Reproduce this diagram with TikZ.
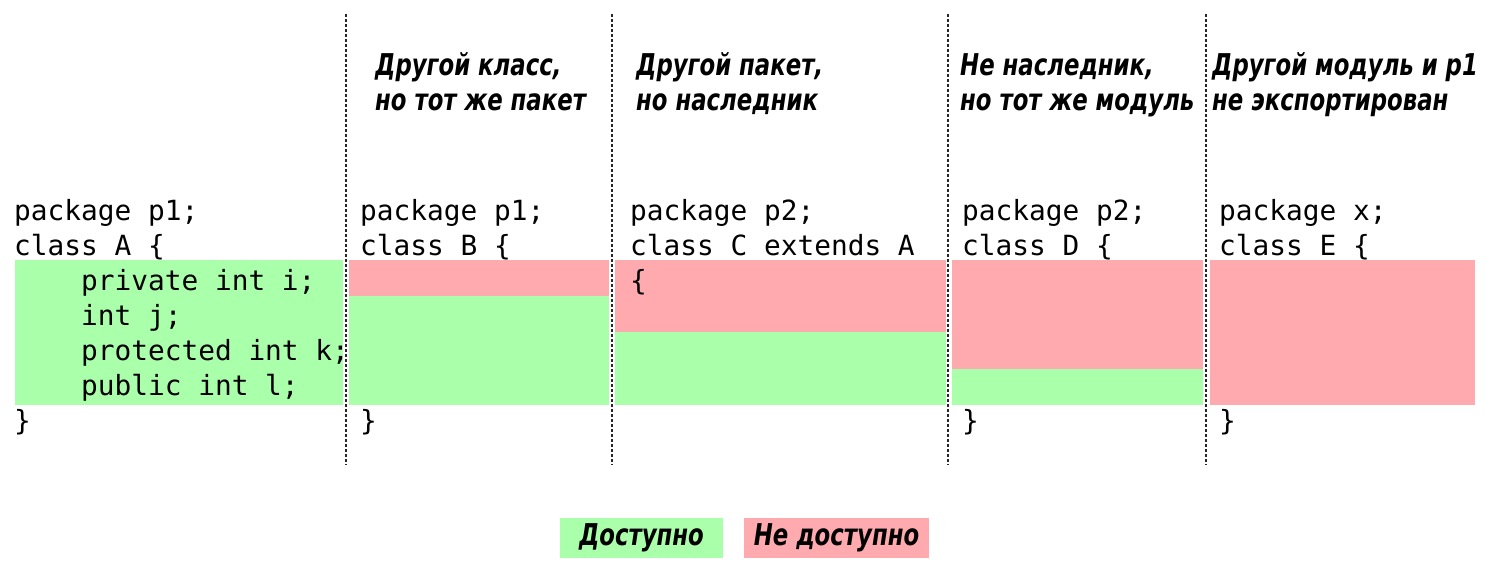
\documentclass[tikz,border=0pt]{standalone}
\usepackage{fontspec}
\newfontfamily\codefont{DejaVu Sans Mono}
\newfontfamily\handfont{DejaVu Sans}[FakeStretch=0.76]
\definecolor{okc}{RGB}{170,255,170}
\definecolor{noc}{RGB}{255,170,175}
\newcommand\ind{\hphantom{xxxx}}
\tikzset{
  code/.style={font=\codefont\fontsize{27.8}{35}\selectfont, anchor=base west, inner sep=0pt},
  head/.style={font=\handfont\bfseries\itshape\fontsize{30}{35}\selectfont, anchor=base west, inner sep=0pt},
  sep/.style={draw=black!85, line width=1.1pt, dash pattern=on 3pt off 2pt},
  legend/.style={font=\handfont\bfseries\itshape\fontsize{30}{35}\selectfont, minimum height=40pt, inner sep=0pt}
}
\begin{document}
\begin{tikzpicture}[x=1pt,y=-1pt]
\useasboundingbox (0,0) rectangle (1485,567);
% bands
\fill[okc] (15,260) rectangle (343,405);
\fill[noc] (349,260) rectangle (609,296);
\fill[okc] (349,296) rectangle (609,405);
\fill[noc] (615,260) rectangle (946,332);
\fill[okc] (615,332) rectangle (946,405);
\fill[noc] (952,260) rectangle (1203,369);
\fill[okc] (952,369) rectangle (1203,405);
\fill[noc] (1210,260) rectangle (1475,405);
% separators
\coordinate (s1t) at (346,14); \coordinate (s1b) at (346,465);
\coordinate (s2t) at (612,14); \coordinate (s2b) at (612,465);
\coordinate (s3t) at (948,14); \coordinate (s3b) at (948,465);
\coordinate (s4t) at (1206,14); \coordinate (s4b) at (1206,465);
\draw[sep] (s1t) -- (s1b);
\draw[sep] (s2t) -- (s2b);
\draw[sep] (s3t) -- (s3b);
\draw[sep] (s4t) -- (s4b);
% code column A
\node[code] (a1) at (14,220) {package p1;};
\node[code] (a2) at (14,255) {class A \{};
\node[code] (a3) at (14,290) {\ind private int i;};
\node[code] (a4) at (14,325) {\ind int j;};
\node[code] (a5) at (14,360) {\ind protected int k;};
\node[code] (a6) at (14,395) {\ind public int l;};
\node[code] (a7) at (14,430) {\}};
% column B
\node[code] (b1) at (360,220) {package p1;};
\node[code] (b2) at (360,255) {class B \{};
\node[code] (b3) at (360,430) {\}};
% column C
\node[code] (c1) at (630,220) {package p2;};
\node[code] (c2) at (630,255) {class C extends A};
\node[code] (c3) at (630,290) {\{};
% column D
\node[code] (d1) at (962,220) {package p2;};
\node[code] (d2) at (962,255) {class D \{};
\node[code] (d3) at (962,430) {\}};
% column E
\node[code] (e1) at (1219,220) {package x;};
\node[code] (e2) at (1219,255) {class E \{};
\node[code] (e3) at (1219,430) {\}};
% headers
\node[head] (hb1) at (375,76) {Другой класс,};
\node[head] (hb2) at (375,111) {но тот же пакет};
\node[head] (hc1) at (636,76) {Другой пакет,};
\node[head] (hc2) at (636,111) {но наследник};
\node[head] (hd1) at (960,76) {Не наследник,};
\node[head] (hd2) at (960,111) {но тот же модуль};
\node[head] (he1) at (1212,76) {Другой модуль и p1};
\node[head] (he2) at (1212,111) {не экспортирован};
% legend
\node[legend, fill=okc, minimum width=163pt] (lok) at (641.5,538) {Доступно};
\node[legend, fill=noc, minimum width=185pt] (lno) at (836.5,538) {Не доступно};
\end{tikzpicture}
\end{document}
